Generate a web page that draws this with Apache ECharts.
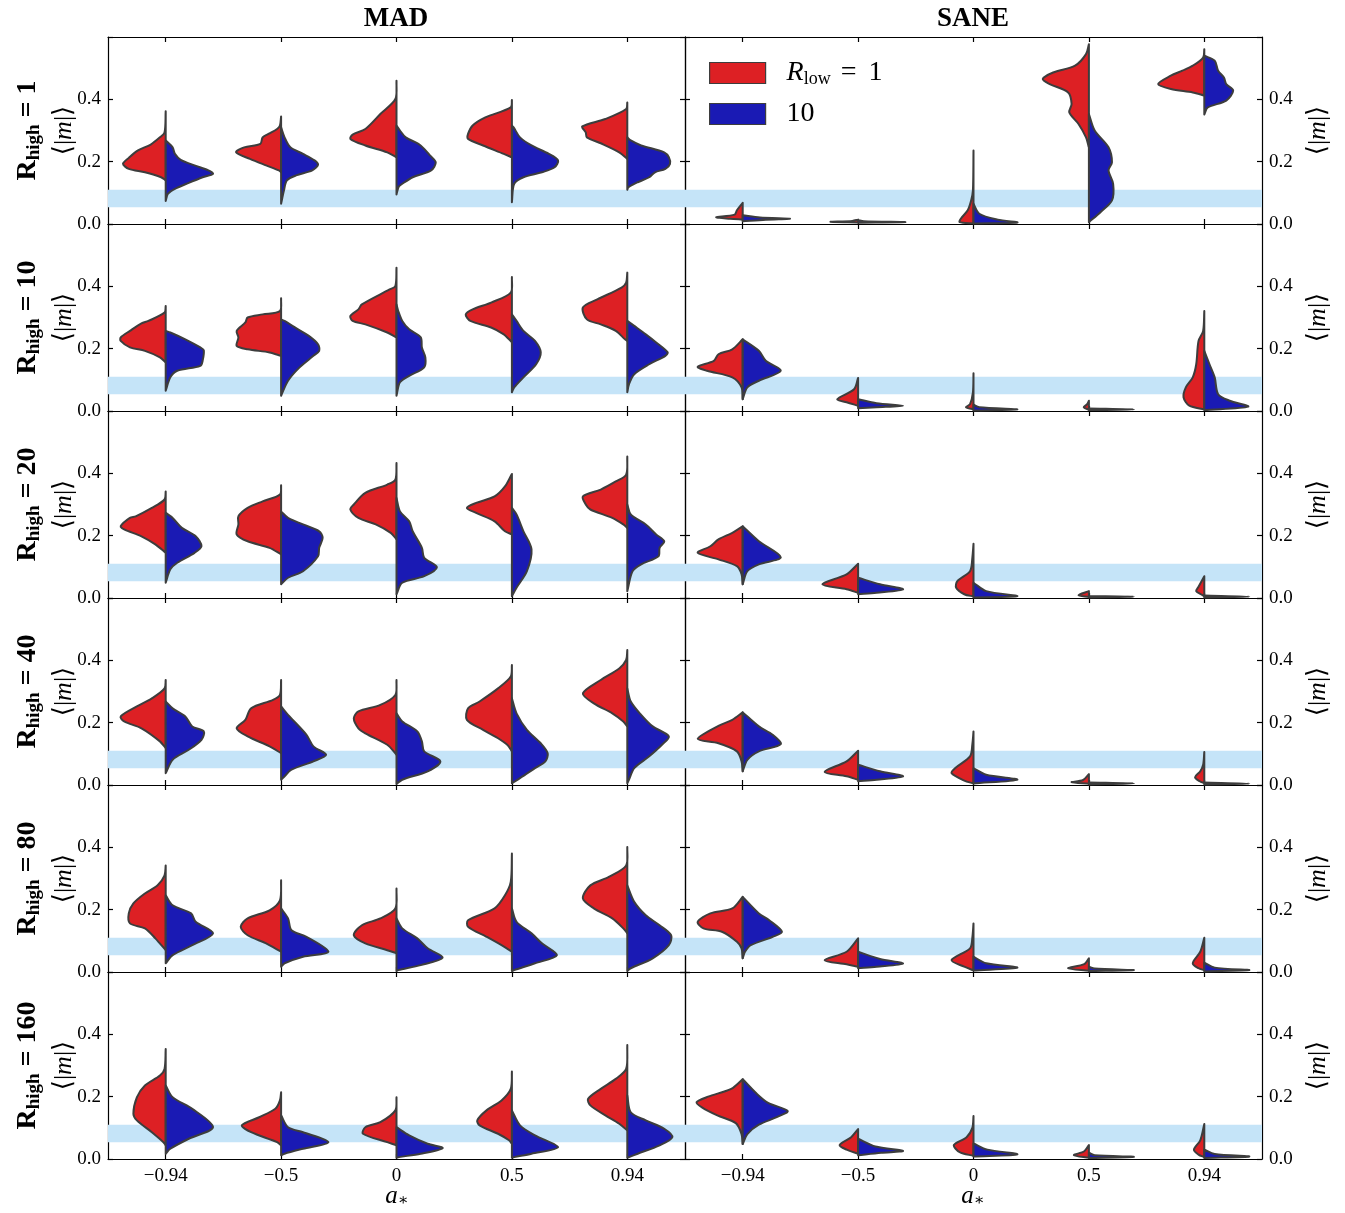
<!DOCTYPE html>
<html>
<head>
<meta charset="UTF-8">
<title>violins</title>
<script src="https://cdn.jsdelivr.net/npm/echarts@6/dist/echarts.min.js"></script>
<style>body{margin:0;background:#fff}</style>
</head>
<body>
<div id="main" style="width:1345px;height:1213px;"></div>
<script>
// spin values on the x axis
var categories = ['\u22120.94', '\u22120.5', '0', '0.5', '0.94'];
var rhighLabels = ['1', '10', '20', '40', '80', '160'];
var bandRange = [0.054, 0.11];

// each half violin: [<|m|>, half width as fraction of category band], bottom -> top
var madRed = [
  [ [[.14,0],[.15,.04],[.166,.18],[.177,.32],[.193,.37],[.212,.32],[.236,.24],[.255,.13],[.278,.05],[.294,.01],[.362,0]],
    [[.166,0],[.172,.02],[.188,.13],[.209,.27],[.23,.39],[.246,.32],[.257,.18],[.278,.16],[.289,.11],[.305,.035],[.316,.01],[.345,0]],
    [[.214,0],[.23,.08],[.252,.27],[.273,.40],[.287,.38],[.305,.27],[.353,.14],[.401,.01],[.46,0]],
    [[.214,0],[.225,.07],[.252,.25],[.273,.38],[.289,.38],[.316,.34],[.342,.23],[.374,.01],[.398,0]],
    [[.209,0],[.23,.07],[.259,.23],[.278,.35],[.294,.36],[.313,.39],[.337,.19],[.369,.01],[.39,0]] ],
  [ [[.156,0],[.172,.05],[.193,.18],[.204,.31],[.225,.39],[.236,.39],[.257,.31],[.281,.21],[.289,.15],[.316,.01],[.337,0]],
    [[.177,0],[.188,.10],[.198,.29],[.209,.385],[.236,.37],[.257,.385],[.284,.31],[.30,.29],[.31,.16],[.321,.01],[.362,0]],
    [[.236,0],[.252,.08],[.278,.27],[.289,.38],[.305,.40],[.326,.33],[.342,.30],[.39,.06],[.401,.01],[.46,0]],
    [[.22,0],[.23,.025],[.246,.07],[.268,.18],[.289,.36],[.31,.40],[.326,.34],[.348,.18],[.38,.01],[.43,0]],
    [[.225,0],[.23,.02],[.257,.10],[.278,.23],[.294,.35],[.332,.385],[.358,.26],[.396,.05],[.412,.01],[.444,0]] ],
  [ [[.145,0],[.172,.09],[.198,.21],[.22,.36],[.23,.39],[.257,.31],[.262,.26],[.289,.12],[.316,.01],[.342,0]],
    [[.14,0],[.161,.10],[.182,.29],[.204,.385],[.236,.37],[.262,.37],[.289,.29],[.31,.16],[.332,.01],[.362,0]],
    [[.188,0],[.209,.05],[.236,.18],[.257,.33],[.284,.40],[.30,.37],[.337,.27],[.364,.08],[.38,.01],[.433,0]],
    [[.204,0],[.214,.06],[.246,.15],[.273,.31],[.289,.39],[.305,.31],[.326,.15],[.358,.06],[.398,0]],
    [[.225,0],[.236,.035],[.257,.13],[.284,.32],[.30,.36],[.326,.385],[.348,.23],[.374,.10],[.396,.01],[.454,0]] ],
  [ [[.118,0],[.14,.05],[.182,.21],[.204,.36],[.22,.39],[.252,.25],[.278,.12],[.31,.01],[.337,0]],
    [[.102,0],[.124,.10],[.156,.29],[.182,.385],[.209,.31],[.246,.26],[.273,.07],[.289,.01],[.337,0]],
    [[.097,0],[.129,.08],[.166,.27],[.182,.33],[.214,.37],[.236,.33],[.257,.14],[.289,.01],[.337,0]],
    [[.108,0],[.129,.04],[.15,.12],[.177,.25],[.209,.39],[.246,.38],[.268,.28],[.31,.12],[.348,.01],[.385,0]],
    [[.188,0],[.204,.035],[.23,.13],[.262,.29],[.294,.385],[.337,.23],[.374,.07],[.401,.01],[.433,0]] ],
  [ [[.07,0],[.108,.09],[.14,.18],[.156,.31],[.188,.32],[.22,.28],[.252,.18],[.278,.07],[.31,.01],[.342,0]],
    [[.065,0],[.092,.13],[.118,.29],[.145,.35],[.172,.29],[.198,.10],[.23,.01],[.294,0]],
    [[.06,0],[.07,.08],[.092,.27],[.118,.37],[.15,.30],[.172,.14],[.204,.01],[.268,0]],
    [[.065,0],[.086,.09],[.113,.22],[.145,.38],[.166,.38],[.204,.15],[.246,.06],[.289,.01],[.38,0]],
    [[.124,0],[.14,.035],[.172,.13],[.204,.29],[.236,.385],[.278,.32],[.305,.16],[.342,.01],[.401,0]] ],
  [ [[.044,0],[.054,.02],[.086,.12],[.124,.25],[.145,.28],[.198,.25],[.236,.18],[.268,.05],[.289,.01],[.353,0]],
    [[.044,0],[.054,.035],[.086,.26],[.108,.34],[.134,.19],[.161,.05],[.188,.01],[.214,0]],
    [[.044,0],[.054,.08],[.081,.29],[.102,.27],[.118,.14],[.156,.01],[.198,0]],
    [[.049,0],[.06,.025],[.081,.12],[.108,.28],[.124,.30],[.156,.22],[.188,.09],[.225,.01],[.281,0]],
    [[.092,0],[.113,.07],[.14,.19],[.172,.32],[.193,.34],[.225,.23],[.257,.10],[.289,.01],[.366,0]] ]
];
var madBlue = [
  [ [[.074,0],[.097,.02],[.113,.08],[.129,.18],[.15,.32],[.161,.41],[.172,.37],[.188,.25],[.206,.13],[.225,.08],[.246,.06],[.268,0]],
    [[.065,0],[.108,.025],[.14,.05],[.156,.13],[.172,.27],[.19,.32],[.204,.29],[.225,.19],[.246,.08],[.278,.03],[.31,0]],
    [[.095,0],[.12,.02],[.129,.05],[.15,.14],[.172,.30],[.198,.34],[.22,.29],[.241,.24],[.257,.19],[.278,.08],[.30,.03],[.316,0]],
    [[.07,0],[.129,.02],[.15,.10],[.166,.26],[.182,.37],[.204,.40],[.225,.32],[.252,.17],[.278,.07],[.31,.015],[.316,0]],
    [[.11,0],[.118,.01],[.134,.09],[.15,.19],[.166,.24],[.177,.33],[.193,.37],[.214,.36],[.23,.32],[.252,.12],[.268,.03],[.278,0]] ],
  [ [[.065,0],[.108,.04],[.129,.10],[.145,.30],[.161,.32],[.195,.33],[.204,.30],[.23,.17],[.252,.04],[.257,0]],
    [[.049,0],[.097,.06],[.14,.16],[.177,.28],[.193,.33],[.214,.32],[.241,.24],[.268,.12],[.289,.03],[.294,0]],
    [[.049,0],[.092,.03],[.113,.11],[.14,.24],[.172,.25],[.204,.22],[.236,.21],[.262,.11],[.289,.05],[.321,.015],[.342,0]],
    [[.06,0],[.076,.02],[.108,.10],[.15,.21],[.188,.25],[.225,.20],[.257,.10],[.289,.04],[.31,0]],
    [[.06,0],[.086,.015],[.118,.06],[.15,.19],[.177,.33],[.188,.35],[.22,.25],[.246,.16],[.273,.06],[.289,0]] ],
  [ [[.049,0],[.092,.04],[.113,.10],[.145,.25],[.166,.31],[.198,.26],[.225,.14],[.257,.06],[.273,0]],
    [[.044,0],[.065,.06],[.086,.19],[.134,.32],[.161,.33],[.193,.36],[.214,.33],[.236,.19],[.257,.06],[.278,0]],
    [[.012,0],[.049,.05],[.07,.24],[.099,.35],[.129,.24],[.161,.22],[.214,.14],[.246,.11],[.278,.03],[.321,0]],
    [[.006,0],[.033,.04],[.086,.13],[.156,.17],[.214,.10],[.268,.04],[.289,0]],
    [[.022,0],[.086,.045],[.108,.12],[.134,.27],[.161,.28],[.182,.32],[.204,.25],[.236,.16],[.268,.03],[.30,0]] ],
  [ [[.038,0],[.081,.06],[.113,.20],[.145,.31],[.172,.33],[.188,.23],[.22,.17],[.246,.06],[.268,0]],
    [[.017,0],[.022,.015],[.049,.09],[.076,.28],[.097,.39],[.124,.28],[.161,.22],[.225,.06],[.252,0]],
    [[.003,0],[.017,.05],[.044,.27],[.076,.38],[.108,.24],[.14,.22],[.172,.18],[.204,.05],[.23,0]],
    [[.006,0],[.022,.07],[.054,.20],[.076,.29],[.102,.31],[.134,.25],[.177,.13],[.23,.04],[.278,0]],
    [[.006,0],[.017,.015],[.054,.06],[.092,.19],[.129,.30],[.156,.36],[.188,.22],[.225,.12],[.268,.03],[.31,0]] ],
  [ [[.028,0],[.054,.06],[.086,.23],[.124,.41],[.161,.26],[.188,.22],[.214,.06],[.246,0]],
    [[.017,0],[.028,.03],[.049,.19],[.065,.41],[.113,.22],[.134,.09],[.172,.06],[.204,0]],
    [[.003,0],[.006,.015],[.022,.21],[.046,.40],[.076,.27],[.108,.18],[.14,.05],[.172,0]],
    [[.003,0],[.006,.02],[.028,.20],[.054,.39],[.092,.26],[.124,.17],[.161,.04],[.204,0]],
    [[.003,0],[.012,.03],[.044,.22],[.086,.36],[.118,.38],[.15,.28],[.182,.16],[.225,.06],[.278,0]] ],
  [ [[.017,0],[.033,.04],[.065,.20],[.102,.41],[.161,.23],[.198,.06],[.236,0]],
    [[.012,0],[.017,.03],[.033,.19],[.054,.41],[.086,.19],[.102,.06],[.14,0]],
    [[.004,0],[.006,.02],[.017,.21],[.035,.40],[.049,.27],[.076,.11],[.102,0]],
    [[.004,0],[.006,.02],[.017,.17],[.038,.40],[.076,.20],[.108,.07],[.156,0]],
    [[.004,0],[.006,.015],[.017,.09],[.044,.28],[.07,.39],[.097,.32],[.124,.16],[.15,.03],[.204,0]] ]
];
var saneRed = [
  [ [[.014,0],[.017,.11],[.022,.23],[.030,.07],[.044,.05],[.068,0]],
    [[.005,0],[.007,.24],[.010,.05],[.014,0]],
    [[.002,0],[.006,.12],[.017,.11],[.044,.05],[.076,.02],[.108,.005],[.236,0]],
    [[.246,0],[.278,.025],[.321,.09],[.358,.17],[.385,.15],[.422,.18],[.449,.34],[.465,.40],[.486,.31],[.508,.12],[.545,.025],[.577,0]],
    [[.412,0],[.422,.10],[.433,.29],[.449,.40],[.476,.29],[.492,.19],[.508,.10],[.534,.01],[.561,0]] ],
  [ [[.038,0],[.076,.01],[.108,.09],[.129,.31],[.142,.39],[.161,.25],[.182,.21],[.198,.09],[.23,0]],
    [[.017,0],[.028,.10],[.038,.18],[.07,.035],[.106,0]],
    [[.005,0],[.012,.065],[.022,.03],[.06,.005],[.121,0]],
    [[.004,0],[.012,.045],[.022,.015],[.033,0]],
    [[.005,0],[.017,.13],[.044,.18],[.076,.16],[.108,.10],[.15,.07],[.225,.05],[.257,.01],[.321,0]] ],
  [ [[.044,0],[.076,.01],[.102,.05],[.124,.21],[.145,.39],[.166,.28],[.188,.21],[.209,.09],[.23,0]],
    [[.017,0],[.028,.10],[.044,.31],[.076,.10],[.11,0]],
    [[.005,0],[.012,.08],[.033,.15],[.054,.14],[.086,.03],[.129,.01],[.174,0]],
    [[.003,0],[.009,.09],[.022,0]],
    [[.006,0],[.012,.03],[.022,.07],[.036,.05],[.07,0]] ],
  [ [[.044,0],[.076,.01],[.108,.05],[.134,.21],[.148,.39],[.19,.21],[.209,.09],[.233,0]],
    [[.017,0],[.028,.10],[.042,.29],[.076,.10],[.11,0]],
    [[.005,0],[.014,.08],[.038,.19],[.054,.16],[.092,.03],[.13,.01],[.172,0]],
    [[.004,0],[.009,.15],[.016,.05],[.035,0]],
    [[.006,0],[.012,.04],[.025,.08],[.044,.035],[.065,.01],[.106,0]] ],
  [ [[.044,0],[.076,.01],[.097,.05],[.129,.18],[.14,.34],[.161,.39],[.188,.28],[.204,.09],[.241,0]],
    [[.017,0],[.025,.10],[.038,.29],[.065,.10],[.108,0]],
    [[.005,0],[.017,.08],[.038,.19],[.076,.03],[.11,.01],[.156,0]],
    [[.004,0],[.012,.18],[.025,.04],[.044,0]],
    [[.006,0],[.012,.05],[.028,.10],[.065,.035],[.11,0]] ],
  [ [[.048,0],[.08,.01],[.115,.06],[.14,.22],[.165,.35],[.182,.40],[.20,.30],[.225,.10],[.256,0]],
    [[.017,0],[.03,.10],[.045,.16],[.07,.06],[.096,0]],
    [[.01,0],[.022,.12],[.045,.17],[.07,.06],[.10,.01],[.138,0]],
    [[.004,0],[.012,.13],[.025,.04],[.045,0]],
    [[.006,0],[.014,.05],[.03,.09],[.06,.035],[.112,0]] ]
];
var saneBlue = [
  [ [[.009,0],[.014,.2],[.017,.41],[.021,.15],[.028,0]],
    [[.004,0],[.006,.41],[.009,.05],[.012,0]],
    [[.002,0],[.005,.38],[.014,.21],[.033,.05],[.065,0]],
    [[.006,0],[.038,.10],[.076,.20],[.129,.21],[.172,.17],[.198,.20],[.246,.17],[.30,.05],[.353,0]],
    [[.351,0],[.374,.03],[.396,.19],[.428,.25],[.449,.19],[.47,.17],[.492,.12],[.524,.09],[.54,0]] ],
  [ [[.038,0],[.076,.04],[.097,.14],[.129,.33],[.161,.20],[.193,.14],[.23,0]],
    [[.009,0],[.012,.16],[.017,.39],[.025,.16],[.038,0]],
    [[.002,0],[.005,.38],[.012,.05],[.02,0]],
    [[.003,0],[.005,.39],[.008,0]],
    [[.003,0],[.014,.38],[.033,.22],[.054,.12],[.108,.09],[.15,.045],[.193,0]] ],
  [ [[.044,0],[.086,.04],[.108,.14],[.131,.33],[.182,.14],[.23,0]],
    [[.012,0],[.017,.16],[.028,.39],[.044,.19],[.065,0]],
    [[.002,0],[.006,.38],[.022,.11],[.049,0]],
    [[.002,0],[.004,.39],[.006,0]],
    [[.002,0],[.004,.39],[.008,0]] ],
  [ [[.044,0],[.081,.04],[.108,.14],[.131,.33],[.161,.26],[.188,.14],[.233,0]],
    [[.012,0],[.017,.16],[.028,.39],[.044,.19],[.065,0]],
    [[.005,0],[.017,.38],[.033,.11],[.054,0]],
    [[.002,0],[.005,.39],[.008,0]],
    [[.002,0],[.004,.39],[.008,0]] ],
  [ [[.044,0],[.065,.02],[.086,.07],[.113,.26],[.129,.34],[.166,.23],[.188,.14],[.241,0]],
    [[.012,0],[.017,.16],[.027,.39],[.042,.19],[.065,0]],
    [[.005,0],[.014,.38],[.028,.11],[.049,0]],
    [[.003,0],[.006,.39],[.011,.05],[.017,0]],
    [[.002,0],[.006,.39],[.014,.09],[.03,0]] ],
  [ [[.048,0],[.08,.04],[.11,.14],[.135,.30],[.154,.39],[.18,.22],[.21,.12],[.256,0]],
    [[.012,0],[.02,.20],[.026,.39],[.04,.15],[.065,0]],
    [[.008,0],[.015,.38],[.03,.12],[.05,0]],
    [[.003,0],[.007,.39],[.012,.05],[.02,0]],
    [[.003,0],[.008,.39],[.016,.09],[.03,0]] ]
];

var RED = '#dd2024', BLUE = '#1a1ab4', EDGE = '#3d3d3d';
var SERIF = '"Liberation Serif", "DejaVu Serif", serif';
var myChart = echarts.init(document.getElementById('main'));

var rowTop = 37, rowH = 187, panelLeft = [108, 685], panelW = 577;
var grids = [], xAxes = [], yAxes = [], series = [];

function halfViolin(shapes, side, color) {
  return function (params, api) {
    var i = params.dataIndex;
    var cx = api.coord([i, 0])[0];
    var band = api.size([1, 0])[0];
    var pts = shapes[i].map(function (p) {
      return [cx + side * p[1] * band, api.coord([i, p[0]])[1]];
    });
    pts.unshift(pts[0].slice());
    pts.push(pts[pts.length - 1].slice());
    return {
      type: 'polygon',
      shape: { points: pts, smooth: 0.3 },
      style: { fill: color, stroke: EDGE, lineWidth: 2, lineJoin: 'round' }
    };
  };
}

for (var r = 0; r < 6; r++) {
  for (var p = 0; p < 2; p++) {
    var g = grids.length;
    grids.push({ left: panelLeft[p], top: rowTop + r * rowH, width: panelW, height: rowH });
    var last = r === 5;
    var xbase = {
      type: 'category', data: categories, gridIndex: g, boundaryGap: true,
      axisLine: { show: true, onZero: false, lineStyle: { color: '#000', width: 1.2 } },
      axisTick: { show: true, inside: true, alignWithLabel: true, length: 5, lineStyle: { color: '#000', width: 1.2 } },
      splitLine: { show: false }
    };
    xAxes.push(Object.assign({}, xbase, { position: 'bottom',
      axisLabel: { show: last, color: '#000', fontFamily: SERIF, fontSize: 19, margin: 8 } }));
    xAxes.push(Object.assign({}, xbase, { position: 'top', axisLabel: { show: false } }));
    var ybase = {
      type: 'value', gridIndex: g, min: 0, max: 0.6, interval: 0.2,
      axisLine: { show: true, onZero: false, lineStyle: { color: '#000', width: 1.2 } },
      axisTick: { show: true, inside: true, length: 5, lineStyle: { color: '#000', width: 1.2 } },
      splitLine: { show: false }
    };
    var lab = { color: '#000', fontFamily: SERIF, fontSize: 19, margin: 7,
      formatter: function (v) { return v > 0.55 ? '' : v.toFixed(1); } };
    yAxes.push(Object.assign({}, ybase, { position: 'left', axisLabel: Object.assign({ show: p === 0 }, lab) }));
    yAxes.push(Object.assign({}, ybase, { position: 'right', axisLabel: Object.assign({ show: p === 1 }, lab) }));

    var xi = g * 2, yi = g * 2;
    series.push({
      type: 'line', xAxisIndex: xi, yAxisIndex: yi, data: [], z: 1, silent: true,
      markArea: { silent: true, itemStyle: { color: '#c5e4f8' },
        data: [[{ yAxis: bandRange[0] }, { yAxis: bandRange[1] }]] }
    });
    var redShapes = (p === 0 ? madRed : saneRed)[r];
    var blueShapes = (p === 0 ? madBlue : saneBlue)[r];
    var idx = categories.map(function (c, i) { return [i, 0]; });
    series.push({ type: 'custom', name: 'Rlow1', xAxisIndex: xi, yAxisIndex: yi, z: 3,
      itemStyle: { color: RED }, encode: { x: 0, y: 1 }, data: idx,
      renderItem: halfViolin(redShapes, -1, RED) });
    series.push({ type: 'custom', name: 'Rlow10', xAxisIndex: xi, yAxisIndex: yi, z: 3,
      itemStyle: { color: BLUE }, encode: { x: 0, y: 1 }, data: idx,
      renderItem: halfViolin(blueShapes, 1, BLUE) });
  }
}

// side texts
var graphics = [];
var big = { fontFamily: SERIF, fontSize: 27, fontWeight: 'bold', fill: '#000' };
graphics.push({ type: 'text', x: 396, y: 19, style: Object.assign({ text: 'MAD', textAlign: 'center', textVerticalAlign: 'middle' }, big) });
graphics.push({ type: 'text', x: 973, y: 19, style: Object.assign({ text: 'SANE', textAlign: 'center', textVerticalAlign: 'middle' }, big) });
var mRich = {
  n: { fontFamily: SERIF, fontSize: 26, fill: '#000' },
  i: { fontFamily: SERIF, fontSize: 26, fontStyle: 'italic', fill: '#000' }
};
for (var k = 0; k < 6; k++) {
  var cy = rowTop + k * rowH + rowH / 2;
  graphics.push({ type: 'text', x: 28, y: cy, rotation: Math.PI / 2,
    style: { text: '{b|R}{s|high}{b| = ' + rhighLabels[k] + '}', textAlign: 'center', textVerticalAlign: 'middle',
      rich: { b: { fontFamily: SERIF, fontSize: 28, fontWeight: 'bold', fill: '#000' },
              s: { fontFamily: SERIF, fontSize: 19, fontWeight: 'bold', fill: '#000', padding: [13, 0, 0, 0] } } } });
  graphics.push({ type: 'text', x: 64, y: cy, rotation: Math.PI / 2,
    style: { text: '{n|\u27e8|}{i|m}{n||\u27e9}', textAlign: 'center', textVerticalAlign: 'middle', rich: mRich } });
  graphics.push({ type: 'text', x: 1318, y: cy, rotation: Math.PI / 2,
    style: { text: '{n|\u27e8|}{i|m}{n||\u27e9}', textAlign: 'center', textVerticalAlign: 'middle', rich: mRich } });
}
[397, 973].forEach(function (x) {
  graphics.push({ type: 'text', x: x, y: 1196,
    style: { text: '{i|a}{s|\u2217}', textAlign: 'center', textVerticalAlign: 'middle',
      rich: { i: { fontFamily: SERIF, fontSize: 25, fontStyle: 'italic', fill: '#000' },
              s: { fontFamily: SERIF, fontSize: 16, fill: '#000', padding: [10, 0, 0, 0] } } } });
});

myChart.setOption({
  backgroundColor: '#fff',
  animation: false,
  grid: grids,
  xAxis: xAxes,
  yAxis: yAxes,
  legend: {
    data: ['Rlow1', 'Rlow10'], orient: 'vertical', left: 704, top: 54,
    itemWidth: 56, itemHeight: 21, itemGap: 12, icon: 'rect',
    itemStyle: { borderColor: EDGE, borderWidth: 1.2 },
    formatter: function (n) { return n === 'Rlow1' ? '{i|R}{s|low}{e|=}{f|1}' : '{t|10}'; },
    textStyle: {
      rich: {
        i: { fontFamily: SERIF, fontSize: 28, fontStyle: 'italic', color: '#000', padding: [0, 0, 0, 16] },
        s: { fontFamily: SERIF, fontSize: 18, color: '#000', padding: [12, 0, 0, 0] },
        e: { fontFamily: SERIF, fontSize: 28, color: '#000', padding: [0, 0, 0, 10] },
        f: { fontFamily: SERIF, fontSize: 28, color: '#000', padding: [0, 0, 0, 12] },
        t: { fontFamily: SERIF, fontSize: 28, color: '#000', padding: [0, 0, 0, 16] }
      }
    }
  },
  graphic: graphics,
  series: series
});
</script>
</body>
</html>
